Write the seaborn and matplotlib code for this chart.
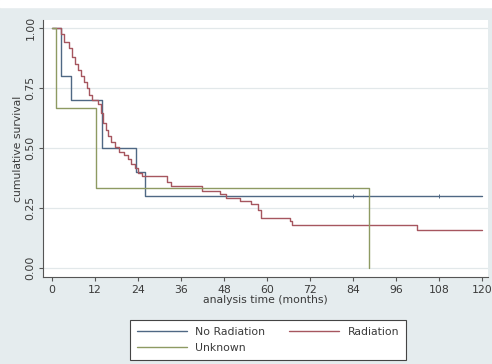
import seaborn as sns
import matplotlib.pyplot as plt
import matplotlib as mpl
import numpy as np
import pandas as pd

# step points (time in months, survival after the drop)
norad_time = [0, 2.5, 5.3, 14.0, 23.5, 26.0, 120.0]
norad_surv = [1.0, 0.80, 0.70, 0.50, 0.40, 0.30, 0.30]

rad_time = [0, 2.5, 3.5, 4.8, 5.5, 6.3, 7.2, 8.2, 9.0, 9.7, 10.3, 11.3, 12.8, 13.8,
            14.3, 15.0, 15.7, 16.6, 17.5, 18.8, 20.0, 21.2, 22.1, 23.1, 24.0, 25.2,
            32.2, 33.3, 42.0, 47.0, 48.7, 52.5, 55.5, 57.5, 58.3, 66.5, 67.0, 102.0, 120.0]
rad_surv = [1.0, 0.975, 0.94, 0.915, 0.88, 0.85, 0.825, 0.80, 0.775, 0.75, 0.72, 0.70,
            0.685, 0.645, 0.605, 0.575, 0.55, 0.525, 0.505, 0.485, 0.47, 0.455, 0.435,
            0.415, 0.395, 0.385, 0.36, 0.34, 0.32, 0.31, 0.29, 0.28, 0.265, 0.24, 0.21,
            0.195, 0.18, 0.16, 0.16]

unk_time = [0, 1.0, 12.3, 88.5]
unk_surv = [1.0, 0.667, 0.333, 0.0]

# censoring marks on the flat part of the No Radiation curve
cens_time = [84.0, 108.0]
cens_surv = [0.30, 0.30]

groups = ['No Radiation', 'Radiation', 'Unknown']
colors = {'No Radiation': '#4f6884', 'Radiation': '#a6565f', 'Unknown': '#8e9a62'}

df = pd.concat([
    pd.DataFrame({'time': norad_time, 'surv': norad_surv, 'group': 'No Radiation'}),
    pd.DataFrame({'time': rad_time, 'surv': rad_surv, 'group': 'Radiation'}),
    pd.DataFrame({'time': unk_time, 'surv': unk_surv, 'group': 'Unknown'}),
])

sns.set_theme(style='white')
plt.rcParams['font.family'] = ['DejaVu Sans']
bg = '#e5ecee'
txt = '#3a3a3a'
fs = 7.8

fig = plt.figure(figsize=(4.92, 3.64), dpi=100, facecolor=bg)
# thin white strip at the very top
fig.add_artist(mpl.patches.Rectangle((0, 1 - 7 / 364), 1, 7 / 364,
                                     transform=fig.transFigure, color='white', zorder=0))
ax = fig.add_axes([43 / 492, 1 - 277 / 364, (488 - 43) / 492, (277 - 20) / 364])
ax.set_facecolor('white')

for g in groups:
    sub = df[df['group'] == g]
    sns.lineplot(data=sub, x='time', y='surv', ax=ax, color=colors[g], label=g,
                 drawstyle='steps-post', estimator=None, sort=False, lw=1.0)

sns.scatterplot(x=cens_time, y=cens_surv, ax=ax, marker='|', s=12,
                color=colors['No Radiation'], linewidth=0.7, zorder=3)

ax.set_xlim(-2.5, 121.7)
ax.set_ylim(-0.0375, 1.033)
ax.set_xticks(np.arange(0, 121, 12))
ax.set_yticks([0, 0.25, 0.5, 0.75, 1.0])
ax.set_yticklabels(['0.00', '0.25', '0.50', '0.75', '1.00'], rotation=90, va='center')
ax.tick_params(axis='both', labelsize=fs, colors='#555555', length=3, width=0.8,
               direction='out', bottom=True, left=True, pad=2.5)
for lab in ax.get_xticklabels() + ax.get_yticklabels():
    lab.set_color(txt)
ax.yaxis.grid(True, color='#e2e8ea', lw=0.9)
ax.xaxis.grid(False)
for s in ['top', 'right']:
    ax.spines[s].set_visible(False)
for s in ['left', 'bottom']:
    ax.spines[s].set_color('#555555')
    ax.spines[s].set_linewidth(0.8)

ax.set_xlabel('analysis time (months)', fontsize=fs, color=txt, labelpad=0)
ax.set_ylabel('cumulative survival', fontsize=fs, color=txt, labelpad=2)

ax.get_legend().remove()
h, l = ax.get_legend_handles_labels()
order = [0, 2, 1]
leg = fig.legend([h[i] for i in order], [l[i] for i in order], ncol=2,
                 loc='center', bbox_to_anchor=(268 / 492, 1 - 340 / 364),
                 fontsize=fs, handlelength=4.6, columnspacing=2.2, handletextpad=0.8,
                 labelspacing=0.6, fancybox=False, framealpha=1, borderpad=0.65,
                 borderaxespad=0)
leg.get_frame().set_edgecolor('#444444')
leg.get_frame().set_linewidth(0.8)
for t in leg.get_texts():
    t.set_color(txt)

fig.savefig('out.png', dpi=100, facecolor=bg)
